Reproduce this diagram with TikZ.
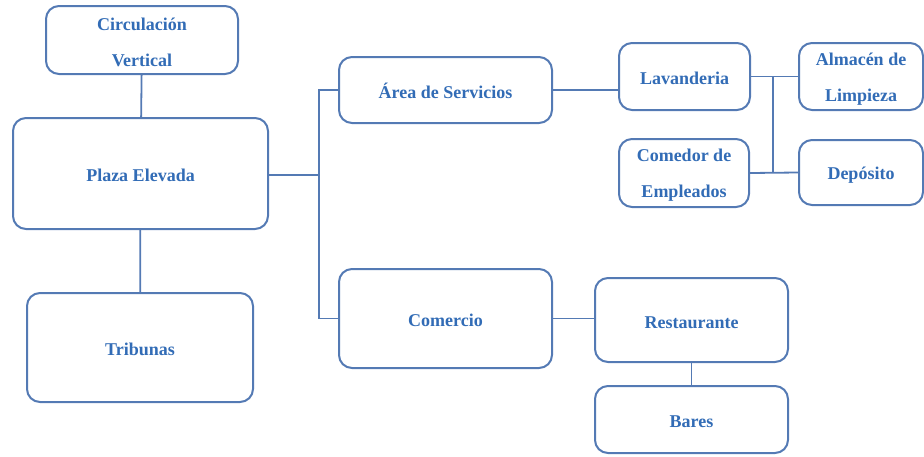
\documentclass[tikz,border=0pt]{standalone}
\usepackage{fontspec}
\setmainfont{Liberation Serif}
\usepackage{xcolor}
\usepackage{tikz}
\definecolor{borde}{RGB}{84,122,180}
\definecolor{texto}{RGB}{50,108,182}

\begin{document}
\begin{tikzpicture}[x=1pt,y=-1pt,
	caja/.style={draw=borde,line width=2pt,rounded corners=13pt,fill=white,text=texto,align=center,inner sep=0pt,font=\bfseries\fontsize{18}{36}\selectfont},
	una/.style={caja,text height=17pt},
	dos/.style={caja,text height=53pt},
	linea/.style={draw=borde,line width=1.8pt}]
				\useasboundingbox (0,0) rectangle (924,456);
				
				\node[dos,minimum width=192,minimum height=68] (circ) at (142,40) {Circulación\\Vertical};%vertical
				\node[una,minimum width=255,minimum height=111] (plaza) at (140.5,173.5) {Plaza Elevada};
				\node[una,minimum width=226,minimum height=109] (trib) at (140,347.5) {Tribunas};
				\node[una,minimum width=213,minimum height=66] (serv) at (445.5,90) {Área de Servicios};
				\node[una,minimum width=213,minimum height=99] (com) at (445.5,318.5) {Comercio};
				\node[una,minimum width=131,minimum height=67] (lav) at (684.5,76.5) {Lavanderia};
				\node[dos,minimum width=130,minimum height=68] (come) at (684,173) {Comedor de\\Empleados};
				\node[dos,minimum width=124,minimum height=67] (alm) at (861,76.5) {Almacén de\\Limpieza};
				\node[una,minimum width=124,minimum height=65] (dep) at (861,172.5) {Depósito};
				\node[una,minimum width=193,minimum height=84] (rest) at (691.5,320) {Restaurante};
				\node[una,minimum width=193,minimum height=67] (bar) at (691.5,419.5) {Bares};
				
				\coordinate (b1) at (319,175);%plaza
				\coordinate (b2) at (773,77);%servicios
				
				\draw[linea] (circ) -- (plaza);
				\draw[linea] (plaza) -- (trib);
				\draw[linea] (plaza.east |- b1) -- (b1);
				\draw[linea] (b1) |- (serv.west);
				\draw[linea] (b1) |- (com.west);
				\draw[linea] (serv.east) -- (serv.east -| lav.west);
				\draw[linea] (lav.east) -- (alm.west);
				\draw[linea] (come.east) -- (dep.west);
				\draw[linea] (b2) -- (b2 |- come.east);
				\draw[linea] (com.east) -- (com.east -| rest.west);
				\draw[linea] (rest) -- (bar);
			\end{tikzpicture}
\end{document}
